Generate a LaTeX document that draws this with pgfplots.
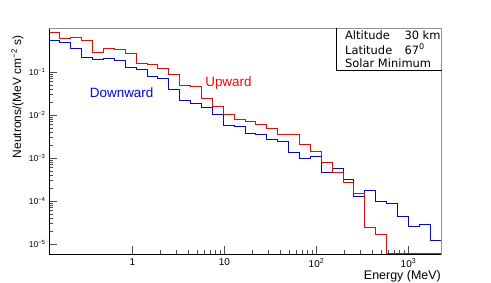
\documentclass[border=0pt]{standalone}
\usepackage{fontspec}
\setmainfont{Liberation Sans}
\newfontfamily\dejavu{DejaVu Sans}
\usepackage{pgfplots}
\pgfplotsset{compat=1.18}

\pgfplotstableread{
x y
0.1237 0.526
0.1624 0.485
0.2134 0.361
0.2802 0.215
0.3681 0.193
0.4834 0.208
0.6349 0.187
0.8336 0.126
1.0949 0.1143
1.4379 0.0777
1.8884 0.0699
2.4802 0.0396
3.2575 0.0223
4.2780 0.0187
5.6187 0.0151
7.3790 0.0100
9.6895 0.00585
12.728 0.00526
16.716 0.00375
21.951 0.00343
28.833 0.00274
37.86 0.00242
49.72 0.00131
65.30 0.000984
85.76 0.001095
112.6 0.000467
147.9 0.000561
194.3 0.000308
255.2 0.000126
335.1 0.000175
440.1 9.73e-5
578.0 8.84e-5
759.0 4.31e-5
996.8 2.62e-5
1309 2.84e-5
1719 1.174e-5
2258 1.174e-5
}\down

\pgfplotstableread{
x y
0.1237 0.838
0.1624 0.608
0.2134 0.641
0.2802 0.526
0.3681 0.287
0.4834 0.356
0.6349 0.325
0.8336 0.272
1.0949 0.159
1.4379 0.1455
1.8884 0.122
2.4802 0.0852
3.2575 0.0498
4.2780 0.0448
5.6187 0.0248
7.3790 0.0156
9.6895 0.0100
12.728 0.00794
16.716 0.00699
21.951 0.00608
28.833 0.00491
37.86 0.00343
49.72 0.00361
65.30 0.00208
85.76 0.00140
112.6 0.000794
147.9 0.000448
194.3 0.000266
255.2 0.000151
335.1 2.445e-5
440.1 1.62e-5
578.0 6.1e-6
759.0 6.1e-6
996.8 6.1e-6
1309 6.1e-6
1719 6.1e-6
2258 6.1e-6
}\up

\begin{document}
\begin{tikzpicture}
\useasboundingbox (-49bp,-29bp) rectangle (442bp,254bp);
\begin{axis}[
  at={(0,0)}, anchor=south west,
  scale only axis, width=392bp, height=225.5bp,
  xmode=log, ymode=log,
  xmin=0.1237, xmax=2258, ymin=5.85e-6, ymax=1.027,
  xtick={1,10,100,1000},
  xticklabels={1,10,10\textsuperscript{2},10\textsuperscript{3}},
  ytick={1e-5,1e-4,1e-3,1e-2,1e-1},
  yticklabels={10\textsuperscript{−5},10\textsuperscript{−4},10\textsuperscript{−3},10\textsuperscript{−2},10\textsuperscript{−1}},
  xtick pos=bottom, ytick pos=left,
  major tick length=8bp, minor tick length=4bp,
  tick style={draw=black!70, line width=0.5pt},
  axis line style={draw=gray!85, line width=0.6pt},
  xticklabel style={font=\fontsize{10}{12}\selectfont, yshift=-1bp},
  yticklabel style={font=\fontsize{8.5}{10}\selectfont},
  clip mode=individual,
]
\addplot[const plot mark left, draw=blue, line width=1pt] table {\down};
\addplot[const plot mark left, draw=red, line width=1pt] table {\up};
\draw[black, line width=1pt] (rel axis cs:0,1) -- (rel axis cs:0,0) -- (rel axis cs:1,0);
\node[red, font=\fontsize{13.5}{16}\selectfont] at (axis cs:11.05,0.056) {Upward};
\node[blue, font=\fontsize{13.5}{16}\selectfont] at (axis cs:0.763,0.0337) {Downward};
\filldraw[fill=white, draw=black, line width=0.8pt] (rel axis cs:0.734,0.816) rectangle (rel axis cs:1,1);
\draw[gray!85, line width=0.6pt] (rel axis cs:1,0.816) -- (rel axis cs:1,1) -- (rel axis cs:0.734,1);
\node[anchor=base west, font=\dejavu\fontsize{11.5}{14}\selectfont, inner sep=0pt] at (rel axis cs:0.755,0.9534) {Altitude};
\node[anchor=base west, font=\dejavu\fontsize{11.5}{14}\selectfont, inner sep=0pt] at (rel axis cs:0.9064,0.9534) {30 km};
\node[anchor=base west, font=\dejavu\fontsize{11.5}{14}\selectfont, inner sep=0pt] at (rel axis cs:0.755,0.8869) {Latitude};
\node[anchor=base west, font=\dejavu\fontsize{11.5}{14}\selectfont, inner sep=0pt] at (rel axis cs:0.9064,0.8869) {67\textsuperscript{0}};
\node[anchor=base west, font=\dejavu\fontsize{11.5}{14}\selectfont, inner sep=0pt] at (rel axis cs:0.755,0.827) {Solar Minimum};
\end{axis}
\node[rotate=90, anchor=east, inner sep=0pt, font=\fontsize{12}{14}\selectfont] at (-31.5bp,218.5bp) {Neutrons/(MeV cm\textsuperscript{−2} s)};
\node[anchor=east, inner sep=0pt, font=\fontsize{12.5}{15}\selectfont] at (392bp,-22bp) {Energy (MeV)};
\end{tikzpicture}
\end{document}
